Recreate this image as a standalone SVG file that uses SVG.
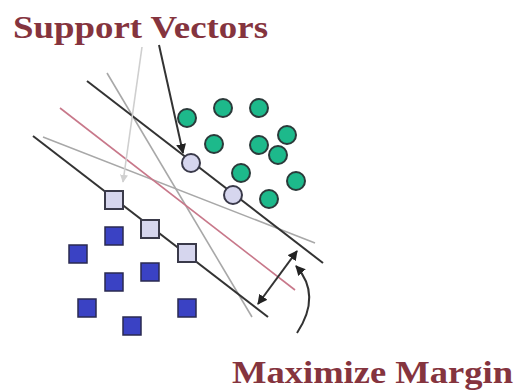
<svg xmlns="http://www.w3.org/2000/svg" width="519" height="391" viewBox="0 0 519 391">
<style>
.lbl{font-family:"Liberation Serif","Times New Roman",serif;font-weight:bold;font-size:32px;fill:#85343e}
.dark{stroke:#333;stroke-width:2;fill:none}
.gray{stroke:#a8a8a8;stroke-width:1.6;fill:none}
.lgray{stroke:#cfcfcf;stroke-width:1.6;fill:none}
.red{stroke:#c8788a;stroke-width:1.6;fill:none}
.g{fill:#1db98b;stroke:#2b3a3a;stroke-width:2}
.sv{fill:#d6d6ee;stroke:#3a3a4a;stroke-width:2}
.b{fill:#3a42c4;stroke:#2a2a50;stroke-width:1.5}
</style>
<defs>
<marker id="ah" viewBox="0 0 10 10" refX="9" refY="5" markerWidth="5" markerHeight="5" orient="auto-start-reverse"><path d="M0,0 L10,5 L0,10 z" fill="#222"/></marker>
<marker id="ahl" viewBox="0 0 10 10" refX="9" refY="5" markerWidth="5" markerHeight="5" orient="auto"><path d="M0,0 L10,5 L0,10 z" fill="#d0d0d0"/></marker>
</defs>
<rect width="519" height="391" fill="#fff"/>
<g id="connectors">
<line class="gray" x1="43" y1="137" x2="315" y2="243"/>
<line class="gray" x1="107" y1="73" x2="252" y2="317"/>
<line class="red" x1="60" y1="108" x2="295" y2="290"/>
<line class="dark" x1="87" y1="81" x2="323" y2="263"/>
<line class="dark" x1="33" y1="136" x2="268" y2="317"/>
<line class="lgray" x1="142" y1="47" x2="123" y2="182" marker-end="url(#ahl)"/>
<line class="dark" x1="159" y1="45" x2="183" y2="153" marker-end="url(#ah)"/>
<line class="dark" x1="297" y1="251" x2="258" y2="304" marker-start="url(#ah)" marker-end="url(#ah)"/>
<path class="dark" d="M297,333 Q322,295 296,266" marker-end="url(#ah)"/>
</g>
<g id="green1"><circle class="g" cx="187" cy="118" r="9"/></g>
<g id="green2"><circle class="g" cx="223" cy="108" r="9"/></g>
<g id="green3"><circle class="g" cx="259" cy="108" r="9"/></g>
<g id="green4"><circle class="g" cx="214" cy="144" r="9"/></g>
<g id="green5"><circle class="g" cx="259" cy="145" r="9"/></g>
<g id="green6"><circle class="g" cx="287" cy="135" r="9"/></g>
<g id="green7"><circle class="g" cx="278" cy="155" r="9"/></g>
<g id="green8"><circle class="g" cx="241" cy="173" r="9"/></g>
<g id="green9"><circle class="g" cx="296" cy="181" r="9"/></g>
<g id="green10"><circle class="g" cx="269" cy="199" r="9"/></g>
<g id="sv1"><circle class="sv" cx="191" cy="163" r="9"/></g>
<g id="sv2"><circle class="sv" cx="233" cy="195" r="9"/></g>
<g id="sq-sv1"><rect class="sv" x="105" y="191" width="18" height="18"/></g>
<g id="sq-sv2"><rect class="sv" x="141" y="220" width="18" height="18"/></g>
<g id="sq-sv3"><rect class="sv" x="178" y="244" width="18" height="18"/></g>
<g id="sq1"><rect class="b" x="105" y="227" width="18" height="18"/></g>
<g id="sq2"><rect class="b" x="69" y="245" width="18" height="18"/></g>
<g id="sq3"><rect class="b" x="141" y="263" width="18" height="18"/></g>
<g id="sq4"><rect class="b" x="105" y="273" width="18" height="18"/></g>
<g id="sq5"><rect class="b" x="78" y="299" width="18" height="18"/></g>
<g id="sq6"><rect class="b" x="178" y="299" width="18" height="18"/></g>
<g id="sq7"><rect class="b" x="123" y="317" width="18" height="18"/></g>
<g id="label-sv"><text class="lbl" x="13" y="38" textLength="255" lengthAdjust="spacingAndGlyphs">Support Vectors</text></g>
<g id="label-mm"><text class="lbl" x="232" y="383" textLength="281" lengthAdjust="spacingAndGlyphs">Maximize Margin</text></g>
</svg>
